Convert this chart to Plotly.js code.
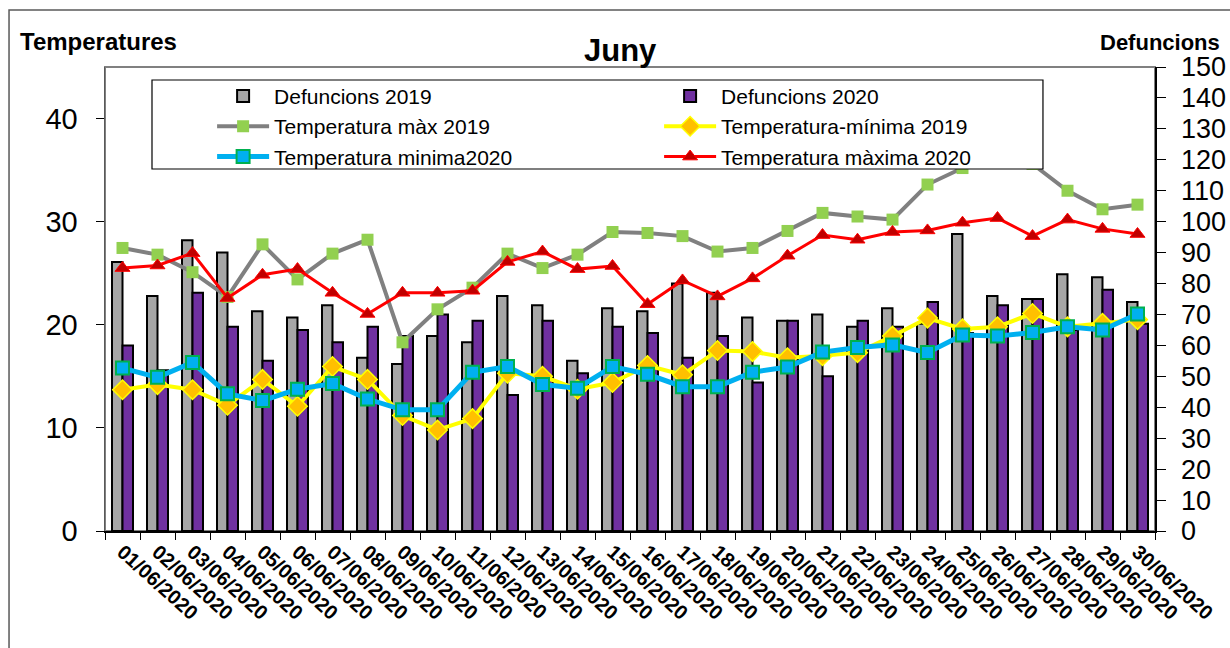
<!DOCTYPE html>
<html>
<head>
<meta charset="utf-8">
<script src="https://cdn.plot.ly/plotly-3.0.1.min.js"></script>
<style>html,body{margin:0;padding:0;background:#fff;}#chart{width:1230px;height:648px;}</style>
</head>
<body>
<div id="chart"></div>
<script>
const dates = ['01/06/2020','02/06/2020','03/06/2020','04/06/2020','05/06/2020','06/06/2020','07/06/2020','08/06/2020','09/06/2020','10/06/2020','11/06/2020','12/06/2020','13/06/2020','14/06/2020','15/06/2020','16/06/2020','17/06/2020','18/06/2020','19/06/2020','20/06/2020','21/06/2020','22/06/2020','23/06/2020','24/06/2020','25/06/2020','26/06/2020','27/06/2020','28/06/2020','29/06/2020','30/06/2020'];

const defuncions2019 = [87, 76, 94, 90, 71, 69, 73, 56, 54, 63, 61, 76, 73, 55, 72, 71, 80, 77, 69, 68, 70, 66, 72, 67, 96, 76, 75, 83, 82, 74];
const defuncions2020 = [60, 52, 77, 66, 55, 65, 61, 66, 63, 70, 68, 44, 68, 51, 66, 64, 56, 63, 48, 68, 50, 68, 66, 74, 64, 73, 75, 65, 78, 67];

const tempMax2019 = [27.45, 26.8, 25.1, 22.7, 27.8, 24.4, 26.9, 28.25, 18.3, 21.5, 23.6, 26.9, 25.5, 26.8, 29.0, 28.9, 28.6, 27.1, 27.45, 29.1, 30.85, 30.5, 30.2, 33.6, 35.2, 37.0, 35.6, 33.0, 31.2, 31.65];
const tempMin2019 = [13.7, 14.2, 13.7, 12.2, 14.7, 12.1, 15.95, 14.7, 11.2, 9.8, 10.9, 15.3, 15.0, 13.75, 14.4, 16.05, 15.15, 17.5, 17.4, 16.8, 17.0, 17.3, 18.9, 20.65, 19.6, 19.8, 21.1, 19.8, 20.15, 20.5];
const tempMin2020 = [15.8, 14.9, 16.35, 13.3, 12.65, 13.75, 14.3, 12.8, 11.75, 11.75, 15.4, 15.95, 14.2, 13.85, 15.95, 15.2, 14.0, 14.0, 15.4, 15.9, 17.35, 17.8, 18.05, 17.3, 19.0, 18.9, 19.25, 19.8, 19.5, 21.05];
const tempMax2020 = [25.5, 25.75, 26.95, 22.6, 24.85, 25.4, 23.1, 21.05, 23.1, 23.1, 23.3, 26.1, 27.1, 25.4, 25.7, 22.0, 24.3, 22.75, 24.5, 26.7, 28.7, 28.25, 29.0, 29.15, 29.9, 30.35, 28.6, 30.2, 29.3, 28.8];

const FONT = 'Liberation Sans, Arial, sans-serif';

const traces = [
  {type:'bar', name:'Defuncions 2019', x:dates, y:defuncions2019, yaxis:'y',
   marker:{color:'#A6A6A6', line:{color:'#000', width:2}}},
  {type:'bar', name:'Defuncions 2020', x:dates, y:defuncions2020, yaxis:'y',
   marker:{color:'#7030A0', line:{color:'#000', width:2}}},
  {type:'scatter', mode:'lines+markers', name:'Temperatura màx 2019', x:dates, y:tempMax2019, yaxis:'y2',
   line:{color:'#808080', width:4}, marker:{symbol:'square', size:12, color:'#92D050', line:{color:'#92D050', width:0}}},
  {type:'scatter', mode:'lines+markers', name:'Temperatura-mínima 2019', x:dates, y:tempMin2019, yaxis:'y2',
   line:{color:'#FFFF00', width:4}, marker:{symbol:'diamond', size:15, color:'#FFC000', line:{color:'#FFFF00', width:1.5}}},
  {type:'scatter', mode:'lines+markers', name:'Temperatura minima2020', x:dates, y:tempMin2020, yaxis:'y2',
   line:{color:'#00B0F0', width:5}, marker:{symbol:'square', size:13, color:'#00B0F0', line:{color:'#00B050', width:2}}},
  {type:'scatter', mode:'lines+markers', name:'Temperatura màxima 2020', x:dates, y:tempMax2020, yaxis:'y2',
   line:{color:'#FF0000', width:3}, marker:{symbol:'triangle-up', size:13, color:'#C00000', line:{color:'#FF0000', width:1}}}
];

const layout = {
  width:1230, height:648,
  margin:{l:105, r:75, t:67, b:117},
  paper_bgcolor:'#fff', plot_bgcolor:'#fff',
  font:{family:FONT, color:'#000'},
  barmode:'group', bargap:0.4, bargroupgap:0,
  showlegend:true,
  legend:{orientation:'h', x:0.102, xanchor:'left', y:0.981, yanchor:'top',
    entrywidth:380, entrywidthmode:'pixels', itemwidth:52,
    bgcolor:'rgba(0,0,0,0)', borderwidth:0, traceorder:'normal',
    font:{family:FONT, size:21, color:'#000'}},
  xaxis:{type:'category', range:[-0.5, 29.5], autorange:false, showgrid:false, zeroline:false, showline:true, linecolor:'#000', linewidth:1.5,
    ticks:'outside', tickson:'boundaries', ticklen:7, tickcolor:'#000', tickwidth:1,
    tickangle:42, tickfont:{family:FONT, size:20, weight:'bold', color:'#000'}},
  yaxis:{side:'right', range:[0,150], dtick:10, tick0:0, showgrid:false, zeroline:false,
    showline:true, linecolor:'#000', linewidth:1.5, ticks:'outside', ticklen:9, tickcolor:'#000',
    ticklabelstandoff:10, tickfont:{family:FONT, size:27, color:'#000'}},
  yaxis2:{side:'left', overlaying:'y', range:[0,45], tickvals:[0,10,20,30,40], showgrid:false, zeroline:false,
    showline:true, linecolor:'#595959', linewidth:1.5, ticks:'outside', ticklen:8, tickcolor:'#000',
    ticklabelstandoff:12, tickfont:{family:FONT, size:29, color:'#000'}},
  shapes:[
    {type:'rect', xref:'paper', yref:'paper', x0:0, x1:1, y0:0, y1:1, line:{color:'#808080', width:2}, layer:'below'},
    {type:'rect', xref:'paper', yref:'paper', x0:-0.0914, x1:1.081, y0:-0.278, y1:1.1228, line:{color:'#595959', width:1.5}, layer:'below'},
    {type:'rect', xref:'paper', yref:'paper', x0:0.04476, x1:0.8933, y0:0.7802, y1:0.972, fillcolor:'#fff', line:{color:'#000', width:1.2}, layer:'above'}
  ],
  annotations:[
    {text:'<b>Juny</b>', xref:'paper', yref:'paper', x:0.4914, y:1.0366, xanchor:'center', yanchor:'middle', showarrow:false, font:{family:FONT, size:31, color:'#000'}},
    {text:'<b>Temperatures</b>', xref:'paper', yref:'paper', x:-0.0829, y:1.0539, xanchor:'left', yanchor:'middle', showarrow:false, font:{family:FONT, size:24, color:'#000'}},
    {text:'<b>Defuncions</b>', xref:'paper', yref:'paper', x:1.0638, y:1.052, xanchor:'right', yanchor:'middle', showarrow:false, font:{family:FONT, size:22, color:'#000'}}
  ]
};

Plotly.newPlot('chart', traces, layout, {displayModeBar:false, staticPlot:true});
</script>
</body>
</html>
